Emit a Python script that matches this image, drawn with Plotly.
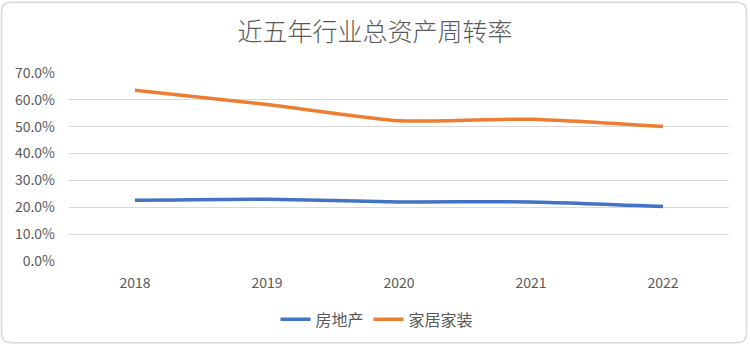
import plotly.graph_objects as go

years = ["2018", "2019", "2020", "2021", "2022"]
real_estate = [0.226, 0.230, 0.220, 0.220, 0.203]
home_furnishing = [0.636, 0.583, 0.522, 0.528, 0.501]
y_ticks = [0, 0.1, 0.2, 0.3, 0.4, 0.5, 0.6, 0.7]
y_tick_labels = ["0.0%", "10.0%", "20.0%", "30.0%", "40.0%", "50.0%", "60.0%", "70.0%"]

W, H = 750, 348
ML, MR, MT, MB = 69, 21, 73, 85
PW, PH = W - ML - MR, H - MT - MB

font_cn = "Noto Sans CJK SC"
grey = "#595959"

fig = go.Figure()
fig.add_trace(go.Scatter(x=years, y=real_estate, name="房地产", mode="lines",
                         line=dict(color="#4472C4", width=3.5, shape="spline", smoothing=0.6)))
fig.add_trace(go.Scatter(x=years, y=home_furnishing, name="家居家装", mode="lines",
                         line=dict(color="#ED7D31", width=3.5, shape="spline", smoothing=0.6)))

def px(x):
    return (x - ML) / PW

def py(y):
    return (H - MB - y) / PH

# rounded border around the chart
x0, x1, y0, y1, r = 1.5, 746.5, 1.5, 345.5, 10
path = (f"M {px(x0 + r)} {py(y0)} L {px(x1 - r)} {py(y0)} "
        f"Q {px(x1)} {py(y0)} {px(x1)} {py(y0 + r)} L {px(x1)} {py(y1 - r)} "
        f"Q {px(x1)} {py(y1)} {px(x1 - r)} {py(y1)} L {px(x0 + r)} {py(y1)} "
        f"Q {px(x0)} {py(y1)} {px(x0)} {py(y1 - r)} L {px(x0)} {py(y0 + r)} "
        f"Q {px(x0)} {py(y0)} {px(x0 + r)} {py(y0)} Z")

fig.update_layout(
    width=W, height=H,
    margin=dict(l=ML, r=MR, t=MT, b=MB),
    paper_bgcolor="white", plot_bgcolor="white",
    title=dict(text="近五年行业总资产周转率", x=0.5, xanchor="center",
               xref="container", y=1 - 32 / H, yanchor="middle",
               font=dict(family=font_cn, size=25, color=grey, weight=300)),
    xaxis=dict(type="category", showgrid=False, showline=False, zeroline=False,
               ticks="", ticklabelstandoff=12,
               tickfont=dict(family=font_cn, size=14, color=grey),
               range=[-0.5, 4.5]),
    yaxis=dict(range=[0, 0.7], tickvals=y_ticks, ticktext=y_tick_labels,
               showgrid=True, gridcolor="#d9d9d9", gridwidth=1, zeroline=False,
               showline=False, ticks="", ticklabelstandoff=13,
               tickfont=dict(family=font_cn, size=14, color=grey)),
    legend=dict(orientation="h", x=px(377), xanchor="center", y=py(322), yanchor="middle",
                font=dict(family=font_cn, size=16, color=grey), itemwidth=30,
                bgcolor="rgba(0,0,0,0)"),
    shapes=[dict(type="path", xref="paper", yref="paper", path=path,
                 line=dict(color="#d9d9d9", width=1.5), fillcolor="rgba(0,0,0,0)", layer="below")],
    showlegend=True,
)

fig.write_html("out.html")
